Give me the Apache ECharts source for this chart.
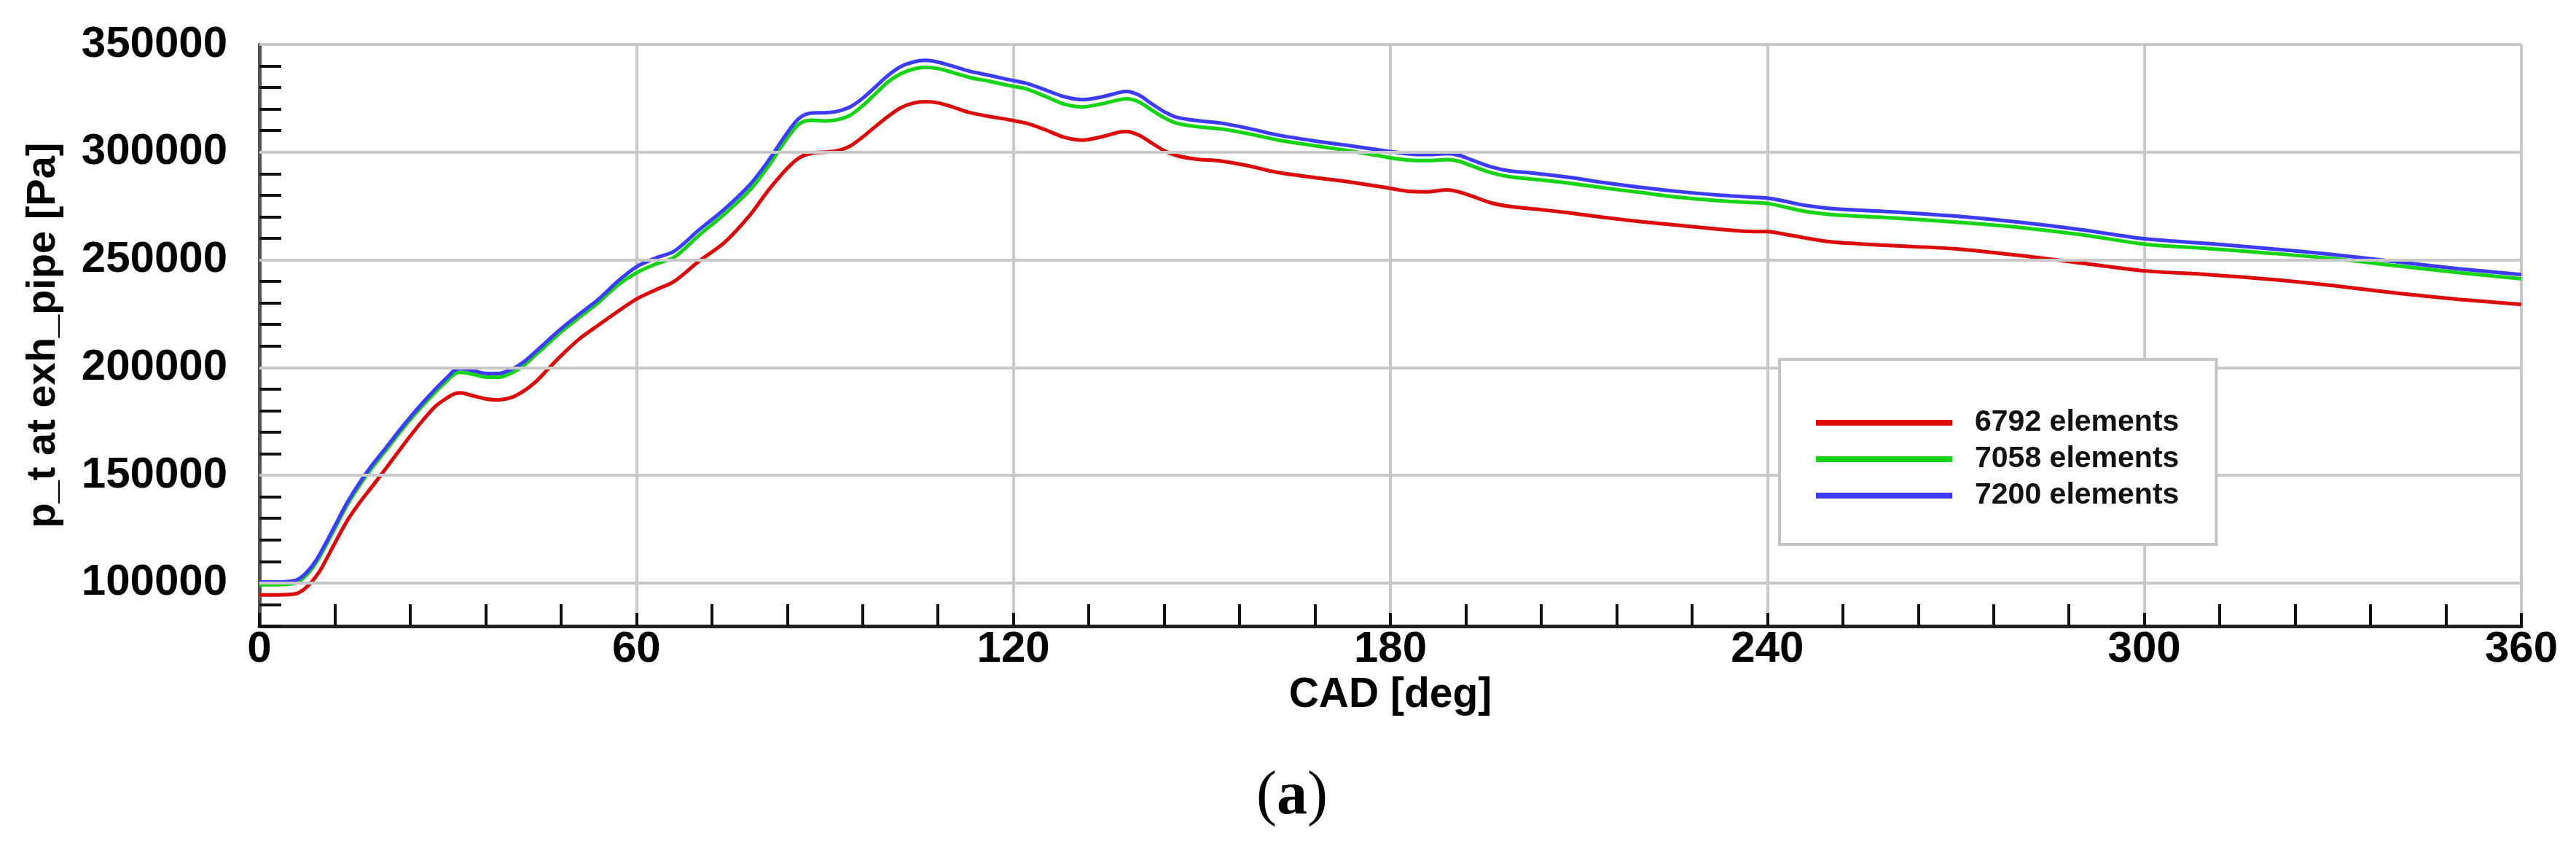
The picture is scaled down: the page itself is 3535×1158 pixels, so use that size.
<!DOCTYPE html>
<html>
<head>
<meta charset="utf-8">
<script src="https://cdn.jsdelivr.net/npm/echarts@6/dist/echarts.min.js"></script>
<style>
html,body{margin:0;padding:0;background:#fff;}
#chart{width:3535px;height:1158px;}
</style>
</head>
<body>
<div id="chart"></div>
<script>
// Crank angle [deg]
const cad = [0,3,5,6,7,8,9,10,12,14,16,18,20,22,24,26,28,30,31,32,34,36,38,40,42,44,46,48,51,54,57,60,63,66,70,74,78,81,84,86,88,90,92,94,96,98,100,102,104,106,108,110,113,116,119,122,125,128,131,134,137,138,140,142,144,146,149,153,157,162,168,174,180,183,186,189,191,193,196,199,203,208,214,220,226,232,237,240,243,246,250,255,260,270,280,290,300,310,320,330,340,350,360];

// p_t at exh_pipe [Pa]
const p6792 = [94500,94500,94700,95200,96800,99500,103000,107500,118500,129000,137500,145000,152700,160500,168200,175500,182000,186200,187800,188300,186900,185500,185000,186000,189000,193500,199500,205500,213500,219800,226000,231800,236000,240000,249500,258000,270500,282300,292500,297500,299600,300000,300700,302800,307000,311800,316500,320500,322700,323400,322900,321300,318400,316700,315200,313500,310500,307000,305600,307100,309400,309600,307900,304300,300700,298400,296800,295900,293900,290600,288200,286000,283200,281800,281600,282500,281500,279600,276500,274800,273600,272000,269700,267700,266000,264300,263200,263100,261800,260200,258400,257400,256600,255100,252100,248500,244900,243200,241000,238100,234600,231700,229300];
const p7058 = [99200,99200,99500,100300,102300,105300,109300,114300,125300,136300,145600,153800,161100,168600,175800,182400,188600,194300,196900,197800,196900,195600,195500,197300,200900,206000,211300,216500,223500,230300,238200,244000,248000,251200,261500,271200,282200,293500,306500,313300,314800,314500,315100,317100,321500,327000,332500,336300,338500,339400,338800,337300,334700,333000,331100,329400,326000,322400,321000,322400,324400,324800,323300,319600,316000,313400,311900,310800,308800,305700,303000,300400,297400,296300,296100,296500,295700,293600,290500,288600,287400,285800,283400,281200,279000,277500,276700,276200,274400,272500,271100,270200,269500,267500,265100,261700,257300,255300,253100,250600,247300,244100,241200];
const p7200 = [100500,100500,100800,101500,103500,106500,110500,115500,126500,137500,146800,155000,162300,169800,177000,183700,190000,195800,198600,199500,198600,197300,197200,199000,202500,207500,212800,218000,225000,231800,240000,246800,250800,254000,264000,273500,284700,296000,309000,316000,318200,318300,319000,321000,325000,330200,335500,339600,341800,342600,341800,340200,337600,335800,333800,332000,329000,325800,324400,325600,327800,328200,326500,322500,318800,316200,314700,313500,311300,308000,305200,302800,300300,299200,298900,299300,298500,296300,293200,291300,290200,288500,285900,283600,281700,280100,279200,278700,277100,275300,273900,273000,272300,270300,267500,264000,259800,257600,255200,252500,249200,245900,243200];

const seriesNames = ['6792 elements','7058 elements','7200 elements'];
const yGridValues = [100000,150000,200000,250000,300000,350000];

const toPairs = arr => cad.map((x,i)=>[x, arr[i]]);
const FONT = "'Liberation Sans', Arial, Helvetica, sans-serif";

const chart = echarts.init(document.getElementById('chart'), null, {renderer:'canvas'});
const lineSeries = (name, arr, color) => ({
  name, type:'line', data: toPairs(arr), smooth:0.3, symbol:'none', showSymbol:false,
  lineStyle:{color, width:5}, itemStyle:{color}, z:3
});

chart.setOption({
  animation:false,
  backgroundColor:'#ffffff',
  grid:{left:356, right:75, top:61, bottom:299, containLabel:false, outerBoundsMode:'none'},
  legend:{
    data: seriesNames,
    icon:'rect',
    orient:'vertical', left:2442, top:493,
    padding:[62,51,42,50], itemGap:0, itemWidth:187, itemHeight:8,
    backgroundColor:'#ffffff', borderColor:'#c4c4c4', borderWidth:4, borderRadius:0,
    textStyle:{fontFamily:FONT, fontWeight:'bold', fontSize:41, color:'#111', lineHeight:50, padding:[0,0,0,26]},
    selectedMode:false, z:10
  },
  xAxis:{
    type:'value', min:0, max:360, interval:60,
    name:'CAD [deg]', nameLocation:'middle', nameGap:50,
    nameTextStyle:{fontFamily:FONT, fontWeight:'bold', fontSize:57, color:'#000'},
    axisLine:{show:true, onZero:false, lineStyle:{color:'#222', width:5}},
    axisTick:{show:true, inside:true, length:18, lineStyle:{color:'#111', width:4}},
    minorTick:{show:true, splitNumber:5, length:30, lineStyle:{color:'#111', width:4}},
    axisLabel:{fontFamily:FONT, fontWeight:'bold', fontSize:60, color:'#000', margin:2},
    splitLine:{show:true, lineStyle:{color:'#c8c8c8', width:4}},
    minorSplitLine:{show:false}
  },
  yAxis:{
    type:'value', min:80000, max:350000, interval:10000,
    name:'p_t at exh_pipe [Pa]', nameLocation:'middle', nameGap:268,
    nameTextStyle:{fontFamily:FONT, fontWeight:'bold', fontSize:56, color:'#000'},
    axisLine:{show:true, onZero:false, lineStyle:{color:'#555', width:5}},
    axisTick:{show:true, inside:true, length:30, lineStyle:{color:'#111', width:4}},
    axisLabel:{fontFamily:FONT, fontWeight:'bold', fontSize:60, color:'#000', margin:44,
      formatter: v => (v % 50000 === 0 ? String(v) : '')},
    splitLine:{show:false}
  },
  graphic:[{
    type:'text', left:1724, top:1052, z:10,
    style:{
      text:'{p|(}{a|a}{p|)}',
      rich:{
        p:{fontFamily:"'Liberation Serif', 'DejaVu Serif', serif", fontSize:84, fill:'#000'},
        a:{fontFamily:"'Liberation Serif', 'DejaVu Serif', serif", fontSize:84, fontWeight:'bold', fill:'#000'}
      }
    }
  }],
  series:[
    {
      name:'grid', type:'line', data:[], silent:true, z:1,
      markLine:{
        silent:true, symbol:['none','none'], label:{show:false},
        lineStyle:{color:'#c8c8c8', width:4, type:'solid'},
        data: yGridValues.map(v=>({yAxis:v}))
      }
    },
    lineSeries(seriesNames[0], p6792, '#dd0a0a'),
    lineSeries(seriesNames[1], p7058, '#14d414'),
    lineSeries(seriesNames[2], p7200, '#3c3cff')
  ]
});
</script>
</body>
</html>
